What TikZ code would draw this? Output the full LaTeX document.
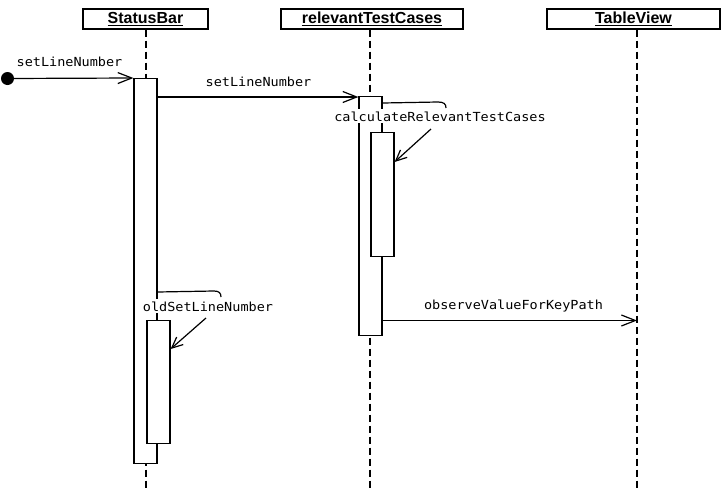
\documentclass[tikz,border=0pt]{standalone}
\usepackage{fontspec}
\setmainfont{Liberation Sans}
\newfontfamily\msgfont[FakeStretch=1.08]{DejaVu Sans Mono}
\usetikzlibrary{arrows.meta,calc}

\tikzset{
  headbox/.style={draw, line width=1.2pt, fill=white, minimum height=20pt, inner sep=0pt,
                  font=\fontsize{16}{16}\selectfont\bfseries},
  lifeline/.style={line width=1.2pt, dash pattern=on 7pt off 4pt},
  act/.style={draw, line width=1.2pt, fill=white, minimum width=23pt, inner sep=0pt, anchor=north},
  msg/.style={line width=1.2pt, -{Straight Barb[length=14pt,width=11pt,line width=1.2pt]}},
  selfmsg/.style={line width=1.2pt, -{Straight Barb[length=11pt,width=10pt,line width=1.2pt]}},
  bracket/.style={line width=1.2pt},
  lbl/.style={font=\msgfont\fontsize{12.5}{13}\selectfont, inner sep=0pt, anchor=base},
  selflbl/.style={lbl, fill=white, inner xsep=1pt, inner ysep=2pt}
}

\begin{document}
\begin{tikzpicture}[x=1pt, y=-1pt]
\useasboundingbox (0,0) rectangle (721,488);

% object headers
\node[headbox, minimum width=125pt] (sb)  at (145.5,19) {\underline{StatusBar}};
\node[headbox, minimum width=182pt] (rtc) at (372,19)   {\underline{relevantTestCases}};
\node[headbox, minimum width=173pt] (tv)  at (633.5,19) {\underline{TableView}};

% lifelines
\coordinate (sbEnd)  at (146,488);
\coordinate (rtcEnd) at (370,488);
\coordinate (tvEnd)  at (637,488);
\draw[lifeline] (sb.south -| sbEnd) -- (sbEnd);
\draw[lifeline] (rtc.south -| rtcEnd) -- (rtcEnd);
\draw[lifeline] (tv.south -| tvEnd) -- (tvEnd);

% activations
\node[act, minimum height=385pt] (sbA)  at (145.5,78) {};
\node[act, minimum height=239pt] (rtcA) at (370.5,96) {};
\node[act, minimum height=124pt] (rtcB) at (382.5,132) {};

% self call: calculateRelevantTestCases
\coordinate (c1) at (446,108);
\draw[bracket] ($(rtcA.north east)+(0,7)$) -- (438,102) .. controls (444,102) and (446,104) .. (c1);
\node[selflbl] (calcL) at (440,121) {calculateRelevantTestCases};
\coordinate (c2) at (431,129);
\draw[selfmsg] (c2) -- (rtcB.east |- 0,162);

% self call: oldSetLineNumber
\coordinate (o1) at (221,297);
\draw[bracket] (157.5,292) -- (214,291) .. controls (219,291) and (221,293) .. (o1);
\node[act, minimum height=123pt] (sbB) at (158.5,320) {};
\node[selflbl] (oldL) at (208,311) {oldSetLineNumber};
\coordinate (o2) at (206,318);
\draw[selfmsg] (o2) -- (sbB.east |- 0,349);

% found message
\node[circle, fill=black, minimum size=13pt, inner sep=0pt] (start) at (7.5,78.5) {};
\draw[msg] (start.center) -- (sbA.north west);
\node[lbl] (m1L) at (69.5,66) {setLineNumber};

% setLineNumber call
\coordinate (m2) at (0,97);
\draw[msg] (sbA.east |- m2) -- (rtcA.west |- m2);
\node[lbl] (m2L) at (258.5,86) {setLineNumber};

% observeValueForKeyPath call
\coordinate (m3) at (0,320.5);
\draw[msg] (rtcA.east |- m3) -- (tvEnd |- m3);
\node[lbl] (m3L) at (513.5,309) {observeValueForKeyPath};
\end{tikzpicture}
\end{document}
